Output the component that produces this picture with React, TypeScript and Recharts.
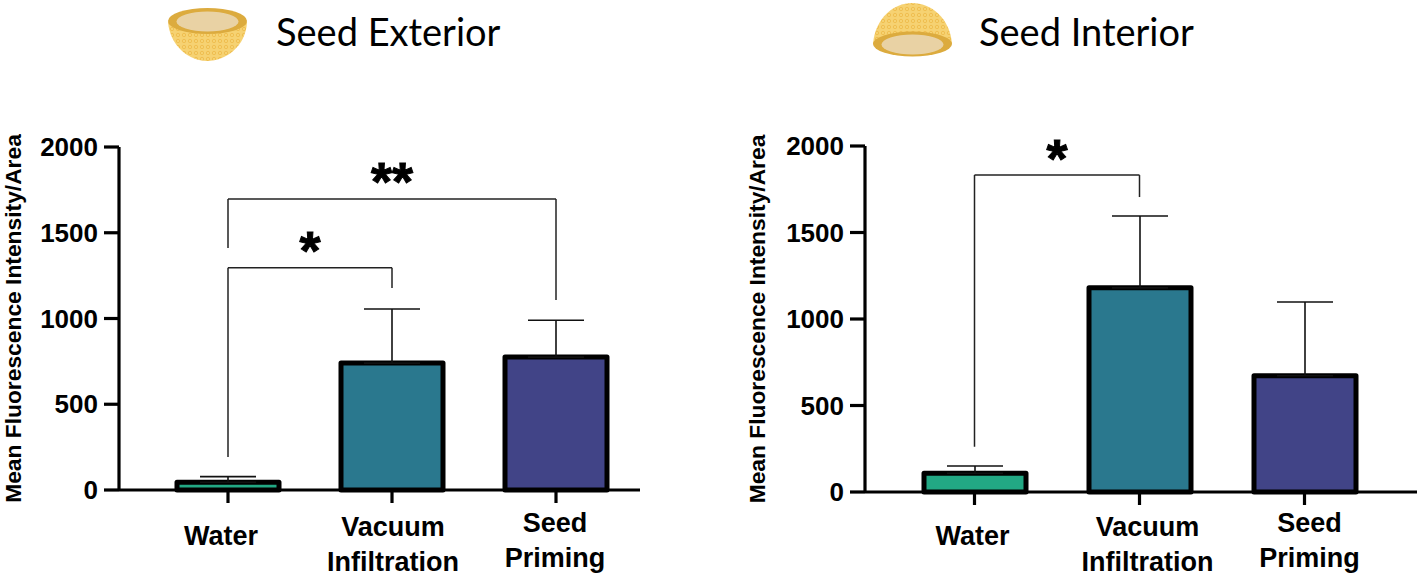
import React from "react";
import {
  Bar,
  BarChart,
  Cell,
  ErrorBar,
  ReferenceLine,
  XAxis,
  YAxis,
} from "recharts";

const categories = ["Water", "Vacuum Infiltration", "Seed Priming"];
const barColors = ["#22a884", "#2a788e", "#414487"];
const yTicks = [0, 500, 1000, 1500, 2000];

const exteriorValues = [45, 740, 775];
const exteriorErrors = [33, 315, 215];
const interiorValues = [108, 1180, 672];
const interiorErrors = [42, 415, 426];

const FONT = '"Liberation Sans", Arial, sans-serif';

const makeRows = (values: number[], errors: number[]) =>
  categories.map((name, i) => ({
    name,
    value: values[i],
    err: [0, errors[i]],
  }));

// multi line labels, the source figure has them hand placed
const tickLines: Record<string, { lines: string[]; y: number }> = {
  Water: { lines: ["Water"], y: 46 },
  "Vacuum Infiltration": { lines: ["Vacuum", "Infiltration"], y: 37 },
  "Seed Priming": { lines: ["Seed", "Priming"], y: 33 },
};

const CategoryTick = (props: any) => {
  const { x, payload, index, shifts } = props;
  const t = tickLines[payload.value];
  return (
    <text
      textAnchor="middle"
      fontFamily={FONT}
      fontWeight={700}
      fontSize={27}
      fill="#000"
    >
      {t.lines.map((line, i) => (
        <tspan key={line} x={x + shifts[index]} y={490 + t.y + 9 + i * 35}>
          {line}
        </tspan>
      ))}
    </text>
  );
};

const Bracket = (
  from: string,
  to: string,
  top: number,
  fromEnd: number,
  toEnd: number,
  stars: string,
  starOffset: number
) => {
  const line = { stroke: "#222", strokeWidth: 1.5, ifOverflow: "visible" as const };
  return [
    <ReferenceLine
      key={to + "top"}
      {...line}
      segment={[
        { x: from, y: top },
        { x: to, y: top },
      ]}
      label={{
        value: stars,
        position: "top",
        offset: starOffset,
        fontFamily: FONT,
        fontWeight: 700,
        fontSize: 54,
        fill: "#000",
        stroke: "#000",
        strokeWidth: 1,
      }}
    />,
    <ReferenceLine
      key={to + "left"}
      {...line}
      segment={[
        { x: from, y: top },
        { x: from, y: fromEnd },
      ]}
    />,
    <ReferenceLine
      key={to + "right"}
      {...line}
      segment={[
        { x: to, y: top },
        { x: to, y: toEnd },
      ]}
    />,
  ];
};

const Panel = ({
  left,
  width,
  axisWidth,
  top,
  bottom,
  padRight,
  values,
  errors,
  labelOffset,
  shifts,
  children,
}: any) => (
  <div style={{ position: "absolute", left, top: 0 }}>
    <BarChart
      width={width}
      height={576}
      data={makeRows(values, errors)}
      margin={{ top, right: 0, bottom: 0, left: 0 }}
      barSize={102}
    >
      <XAxis
        dataKey="name"
        height={bottom}
        interval={0}
        padding={{ left: 27, right: padRight }}
        tick={<CategoryTick shifts={shifts} />}
        tickSize={13}
        axisLine={{ stroke: "#000", strokeWidth: 3.2 }}
        tickLine={{ stroke: "#000", strokeWidth: 3.2 }}
      />
      <YAxis
        width={axisWidth}
        domain={[0, 2000]}
        ticks={yTicks}
        interval={0}
        tickSize={15}
        tickMargin={6}
        tick={{ fontFamily: FONT, fontWeight: 700, fontSize: 26, fill: "#000" }}
        axisLine={{ stroke: "#000", strokeWidth: 3.2 }}
        tickLine={{ stroke: "#000", strokeWidth: 3.2 }}
        label={{
          value: "Mean Fluorescence Intensity/Area",
          angle: -90,
          position: "insideLeft",
          offset: labelOffset,
          textAnchor: "middle",
          fontFamily: FONT,
          fontWeight: 700,
          fontSize: 22.8,
          fill: "#000",
        }}
      />
      <Bar
        dataKey="value"
        isAnimationActive={false}
        stroke="#000"
        strokeWidth={5}
        strokeLinejoin="round"
      >
        {categories.map((name, i) => (
          <Cell key={name} fill={barColors[i]} />
        ))}
        <ErrorBar
          dataKey="err"
          direction="y"
          width={28}
          stroke="#111"
          strokeWidth={1.6}
          isAnimationActive={false}
        />
      </Bar>
      {children}
    </BarChart>
  </div>
);

// small seed cartoons next to the panel titles
const SeedBowl = () => (
  <svg
    width={90}
    height={66}
    style={{ position: "absolute", left: 163, top: 2 }}
  >
    <defs>
      <pattern id="cells1" width="6" height="6" patternUnits="userSpaceOnUse">
        <rect width="6" height="6" fill="#f6d272" />
        <circle cx="3" cy="3" r="1.7" fill="none" stroke="#eebb4c" strokeWidth="0.9" />
      </pattern>
    </defs>
    <path d="M5 20 C7 44 26 59 44 59 C63 59 83 44 84 20 Z" fill="url(#cells1)" />
    <ellipse cx="44.5" cy="19" rx="39.5" ry="13" fill="#dcab3e" />
    <ellipse cx="44.5" cy="19.5" rx="31" ry="10" fill="#e9d2a4" />
  </svg>
);

const SeedDome = () => (
  <svg
    width={90}
    height={62}
    style={{ position: "absolute", left: 868, top: 0 }}
  >
    <defs>
      <pattern id="cells2" width="6" height="6" patternUnits="userSpaceOnUse">
        <rect width="6" height="6" fill="#f6d272" />
        <circle cx="3" cy="3" r="1.7" fill="none" stroke="#eebb4c" strokeWidth="0.9" />
      </pattern>
    </defs>
    <path d="M5 44 C7 18 26 3 44 3 C63 3 82 18 84 44 Z" fill="url(#cells2)" />
    <ellipse cx="44.5" cy="44" rx="39.5" ry="12.5" fill="#dcab3e" />
    <ellipse cx="44.5" cy="44.5" rx="31" ry="10" fill="#e9d2a4" />
  </svg>
);

const titleStyle: React.CSSProperties = {
  position: "absolute",
  top: 9,
  fontFamily: "Lato, sans-serif",
  fontSize: 38,
  lineHeight: "44px",
  color: "#000",
  whiteSpace: "nowrap",
};

export default function App() {
  return (
    <div
      style={{
        position: "absolute",
        left: 0,
        top: 0,
        width: 1418,
        height: 576,
        overflow: "hidden",
        background: "#fff",
      }}
    >
      <SeedBowl />
      <div style={{ ...titleStyle, left: 276 }}>Seed Exterior</div>
      <SeedDome />
      <div style={{ ...titleStyle, left: 979 }}>Seed Interior</div>

      <Panel
        left={0}
        width={640}
        axisWidth={119}
        top={147}
        bottom={86}
        padRight={2}
        values={exteriorValues}
        errors={exteriorErrors}
        labelOffset={13}
        shifts={[-7, 1, -1]}
      >
        {Bracket("Water", "Seed Priming", 1697, 1411, 1108, "**", -1.5)}
        {Bracket("Water", "Vacuum Infiltration", 1296, 192, 1178, "*", -1.5)}
      </Panel>
      <Panel
        left={709}
        width={708}
        axisWidth={156}
        top={146}
        bottom={84}
        padRight={30}
        values={interiorValues}
        errors={interiorErrors}
        labelOffset={48}
        shifts={[-2, 8, 5]}
      >
        {Bracket("Water", "Vacuum Infiltration", 1832, 262, 1705, "*", -2)}
      </Panel>
    </div>
  );
}
